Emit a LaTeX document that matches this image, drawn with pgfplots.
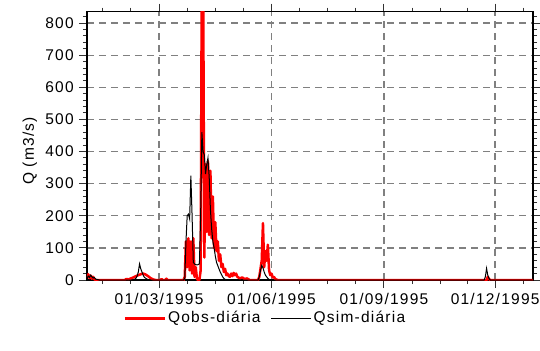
\documentclass[border=0pt]{standalone}
\usepackage{fontspec}
\setmainfont{Liberation Sans}[LetterSpace=8]
\usepackage{pgfplots}
\pgfplotsset{compat=1.18}
\begin{document}
\fontsize{15.5bp}{18bp}\selectfont
\begin{tikzpicture}
\begin{axis}[
 name=ax,
 scale only axis, width=446bp, height=268.5bp,
 xmin=0, xmax=365, ymin=0, ymax=836,
 xtick={59,151,243,334},
 xticklabels={01/03/1995,01/06/1995,01/09/1995,01/12/1995},
 minor xtick={13,36,82,105,128,174,197,220,266,289,311,357},
 ytick={0,100,...,800},
 minor ytick={20,40,...,820},
 tick align=outside, major tick length=8bp, minor tick length=4bp,
 tick style={black!80, line width=1bp},
 xmajorgrids, ymajorgrids,
 major grid style={gray, dash pattern=on 7bp off 5bp, line width=1.3bp},
 axis line style={line width=1.3bp},
 ylabel={Q (m3/s)},
 ylabel style={at={(axis description cs:-0.128,0.48)}, anchor=center},
 /pgf/number format/assume math mode=true,
 legend style={at={(0.40,-0.143)}, anchor=center, draw=none, fill=none, legend columns=2,
   /tikz/every even column/.append style={column sep=8bp}},
 legend image code/.code={\draw[#1] (0bp,0bp) -- (40bp,0bp);},
]
\addplot[red, line width=2.5bp, line join=round] coordinates {
(0,8)(1,18)(2,6)(3,14)(4,4)(5,10)(6,2)(7,0)(31,0)(32,3)(34,2)(36,5)(38,8)(40,12)(42,15)(44,18)(46,20)(48,17)(50,12)(52,6)(54,2)(56,0)(60,0)(61,3)(62,0)(64,0)(65,4)(66,0)
(79,0)(80,10)(81,120)(82,40)(83,130)(84,30)(85,120)(86,20)(87,130)(88,10)(89,40)(90,3)(91,0)(92,0)(93,30)(94,1000)(95,1000)(96,70)(97,360)(98,150)(99,370)(100,140)(101,340)(102,130)(103,260)(104,100)(105,180)(106,90)(107,120)(108,60)(109,80)(110,40)(111,50)(112,25)(113,35)(114,15)(115,20)(116,12)(117,10)(118,20)(119,12)(120,22)(121,15)(122,20)(123,10)(125,5)(127,8)(129,3)(131,5)(133,0)
(140,0)(141,10)(142,35)(143,60)(144,177)(145,40)(146,90)(147,60)(148,110)(149,30)(150,15)(151,20)(152,8)(153,10)(154,3)(156,0)
(327,0)(328,10)(329,3)(330,0)(365,0)
};
\addlegendentry{Qobs-diária}
\addplot[black, line width=1bp] coordinates {
(0,5)(1,12)(2,8)(3,15)(4,10)(5,6)(6,8)(7,3)(8,2)(10,0)(38,0)(40,5)(41,12)(42,25)(43,50)(44,35)(45,25)(46,15)(47,8)(49,3)(51,0)
(79,0)(80,5)(81,120)(82,200)(83,205)(84,190)(85,325)(86,200)(87,55)(88,50)(89,48)(90,47)(91,48)(92,50)(93,200)(94,460)(95,400)(96,390)(97,330)(98,360)(99,380)(100,320)(101,220)(102,160)(103,120)(104,100)(105,75)(106,55)(107,45)(108,35)(109,25)(110,18)(111,10)(112,5)(113,2)(114,0)
(140,0)(141,10)(142,30)(143,45)(144,38)(145,25)(146,15)(147,10)(148,5)(149,2)(150,0)
(325,0)(326,10)(327,36)(328,15)(329,5)(330,0)(365,0)
};
\addlegendentry{Qsim-diária}
\end{axis}
\pgfresetboundingbox
\path[use as bounding box] (ax.south west) ++(-87bp,-71bp) rectangle ++(540bp,351bp);
\end{tikzpicture}
\end{document}
